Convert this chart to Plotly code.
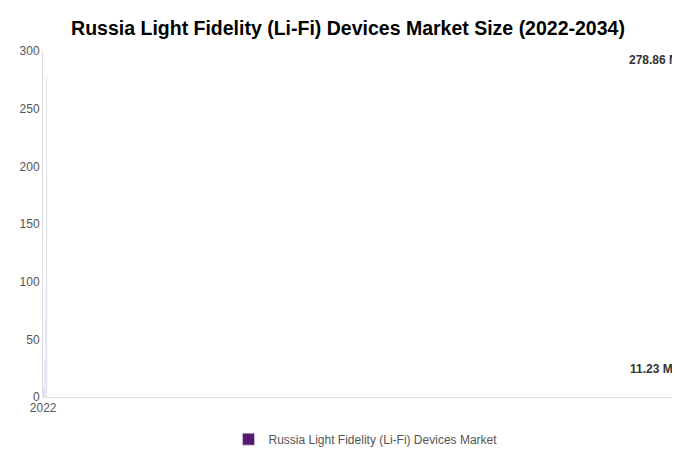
import plotly.graph_objects as go

years = ["2022","2023","2024","2025","2026","2027","2028","2029","2030","2031","2032","2033","2034"]
values = [3.5, 5.2, 7.8, 11.23, 15.6, 22.5, 32, 46, 66, 94.5, 136, 194, 278.86]
colors = ["#561a73"]*3 + ["#a7cde0"] + ["#e7bdea"]*9
label_idx = [3, 12]

fig = go.Figure()
fig.add_trace(go.Bar(x=years, y=values, marker=dict(color=colors, cornerradius=18),
                     width=0.72, showlegend=False))
fig.add_trace(go.Bar(x=[None], y=[None], marker_color="#561a73",
                     name="Russia Light Fidelity (Li-Fi) Devices Market", showlegend=True))
for i in label_idx:
    fig.add_annotation(x=years[i], y=values[i], text=f"<b>{values[i]:.2f} Mn</b>", showarrow=False,
                       yanchor="bottom", yshift=6, font=dict(size=12, color="#333"))
fig.update_layout(
    width=680, height=450, plot_bgcolor="white", paper_bgcolor="white",
    margin=dict(l=35, r=0, t=43, b=61, autoexpand=False),
    title=dict(text="<b>Russia Light Fidelity (Li-Fi) Devices Market Size (2022-2034)</b>",
               x=0.5, xanchor="center", y=0.955, yanchor="middle", font=dict(size=19.5, color="black", family="Liberation Sans")),
    font=dict(family="Liberation Sans", size=12, color="#555"),
    legend=dict(orientation="h", x=0.5, xanchor="center", y=-0.08, yanchor="top"),
    bargap=0.28,
)
fig.update_yaxes(range=[0, 300], dtick=50, showgrid=False, showline=True, linecolor="#ddd", ticks="", zeroline=False, automargin=False)
fig.update_xaxes(showline=True, linecolor="#ddd", ticks="", automargin=False)
fig.write_html("out.html")
